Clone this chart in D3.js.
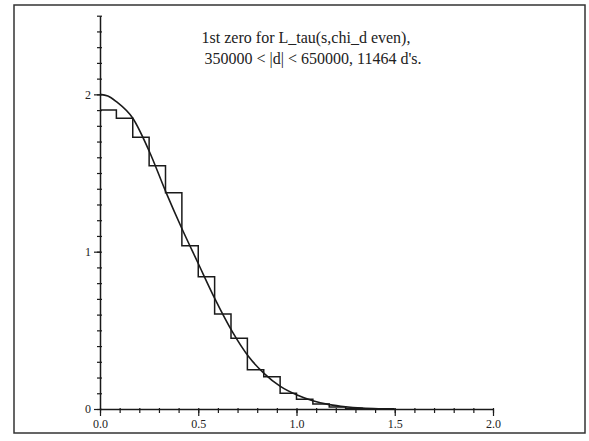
<!DOCTYPE html>
<html><head><meta charset="utf-8">
<script src="https://cdn.jsdelivr.net/npm/d3@7"></script>
<style>body{margin:0;background:#fff}svg{display:block}</style>
</head><body>
<script>
// ---- data ----
const titleLines = ["1st zero for L_tau(s,chi_d even),", "350000 < |d| < 650000, 11464 d's."];
const binWidth = 1/12;
const histHeights = [1.90, 1.848, 1.727, 1.547, 1.375, 1.038, 0.841, 0.604, 0.449, 0.250, 0.205, 0.100, 0.062, 0.032, 0.013, 0.005, 0.002];
const curveX = [0, 0.04, 0.083, 0.167, 0.25, 0.336, 0.416, 0.5, 0.585, 0.674, 0.755, 0.836, 0.916, 1.0, 1.083, 1.167, 1.25, 1.333, 1.417, 1.5];
const curveY = [2.0, 1.99, 1.954, 1.848, 1.64, 1.377, 1.149, 0.925, 0.70, 0.49, 0.335, 0.225, 0.145, 0.09, 0.052, 0.028, 0.014, 0.006, 0.002, 0.0005];
const xMajorTicks = [0, 0.5, 1.0, 1.5, 2.0];
const yMajorTicks = [0, 1, 2];

const W = 589, H = 441;
const svg = d3.select("body").append("svg").attr("width", W).attr("height", H);
svg.append("rect").attr("width", W).attr("height", H).attr("fill", "#fff");
svg.append("rect").attr("x", 14).attr("y", 5).attr("width", 571).attr("height", 428)
  .attr("fill", "none").attr("stroke", "#333").attr("stroke-width", 1.5);

const x = d3.scaleLinear().domain([0, 2]).range([100, 493]);
const y = d3.scaleLinear().domain([0, 2.5]).range([409, 15.7]);
const ink = "#1a1a1a";
const font = "'Liberation Serif','Times New Roman',serif";

// x axis minor
const xMinor = svg.append("g").attr("transform", `translate(0,${y(0)})`)
  .call(d3.axisBottom(x).tickValues(d3.range(0, 21).map(i => i / 10)).tickSize(4).tickSizeOuter(0).tickFormat(""));
xMinor.selectAll("line").attr("y1", -1);
const xMajor = svg.append("g").attr("transform", `translate(0,${y(0)})`)
  .call(d3.axisBottom(x).tickValues(xMajorTicks).tickSize(7).tickPadding(3).tickSizeOuter(0).tickFormat(d3.format(".1f")));
xMajor.select(".domain").remove();
[xMinor, xMajor].forEach(g => {
  g.select(".domain").attr("stroke", ink).attr("stroke-width", 1.5);
  g.selectAll("line").attr("stroke", ink).attr("stroke-width", 1.2);
  g.selectAll("text").attr("font-family", font).attr("font-size", 12).attr("fill", "#222");
});

// y axis
const yMinor = svg.append("g").attr("transform", `translate(${x(0)},0)`)
  .call(d3.axisLeft(y).tickValues(d3.range(0, 26).map(i => i / 10)).tickSize(3).tickSizeOuter(0).tickFormat(""));
yMinor.selectAll("line").attr("x1", 2);
const yMajor = svg.append("g").attr("transform", `translate(${x(0)},0)`)
  .call(d3.axisLeft(y).tickValues(yMajorTicks).tickSize(6).tickPadding(3).tickSizeOuter(0).tickFormat(d3.format("d")));
yMajor.select(".domain").remove();
[yMinor, yMajor].forEach(g => {
  g.select(".domain").attr("stroke", ink).attr("stroke-width", 1.5);
  g.selectAll("line").attr("stroke", ink).attr("stroke-width", 1.2);
  g.selectAll("text").attr("font-family", font).attr("font-size", 12).attr("fill", "#222");
});

// histogram step outline
const histPts = histHeights.map((h, i) => [i * binWidth, h]);
histPts.push([histHeights.length * binWidth, histHeights[histHeights.length - 1]]);
svg.append("path").datum(histPts)
  .attr("d", d3.line().x(d => x(d[0])).y(d => y(d[1])).curve(d3.curveStepAfter))
  .attr("fill", "none").attr("stroke", ink).attr("stroke-width", 1.5);

// curve
const cPts = curveX.map((v, i) => [v, curveY[i]]);
svg.append("path").datum(cPts)
  .attr("d", d3.line().x(d => x(d[0])).y(d => y(d[1])).curve(d3.curveMonotoneX))
  .attr("fill", "none").attr("stroke", ink).attr("stroke-width", 1.6);

// title
const tt = svg.append("g").attr("font-family", font).attr("font-size", 16).attr("fill", "#222");
tt.append("text").attr("x", 306).attr("y", 43).attr("text-anchor", "middle").text(titleLines[0]);
tt.append("text").attr("x", 313).attr("y", 64).attr("text-anchor", "middle").text(titleLines[1]);
</script>
</body></html>
